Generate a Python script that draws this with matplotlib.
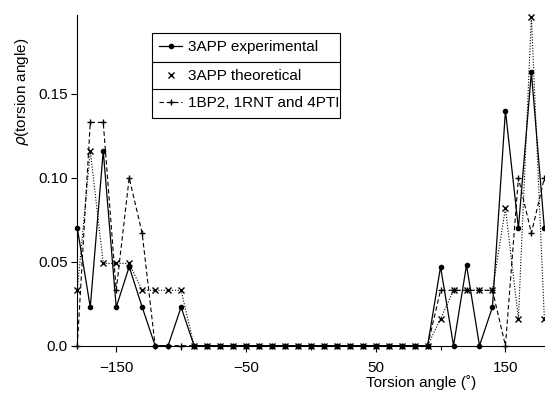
import matplotlib
matplotlib.use("Agg")
import matplotlib.pyplot as plt
from matplotlib.lines import Line2D

plt.rcParams['font.family'] = ['Liberation Sans', 'DejaVu Sans']

# ---- data ----
angles = list(range(-180, 181, 10))

experimental = ([0.070, 0.023, 0.116, 0.023, 0.047, 0.023, 0.0, 0.0, 0.023, 0.0]
                + [0.0] * 17
                + [0.0, 0.047, 0.0, 0.048, 0.0, 0.023, 0.140, 0.070, 0.163, 0.070])

theoretical = ([0.033, 0.116, 0.049, 0.049, 0.049, 0.033, 0.033, 0.033, 0.033, 0.0]
               + [0.0] * 17
               + [0.0, 0.016, 0.033, 0.033, 0.033, 0.033, 0.082, 0.016, 0.196, 0.016])

others = ([0.0, 0.133, 0.133, 0.033, 0.100, 0.067, 0.0, 0.0, 0.0, 0.0]
          + [0.0] * 17
          + [0.0, 0.033, 0.033, 0.033, 0.033, 0.033, 0.0, 0.100, 0.067, 0.100])

labels = ["3APP experimental", "3APP theoretical", "1BP2, 1RNT and 4PTI"]
xticks_major = [-150, -50, 50, 150]
xtick_labels = ["\u2212150", "\u221250", "50", "150"]
xticks_minor = [-100, 0, 100]
yticks = [0.0, 0.05, 0.10, 0.15]
ytick_labels = ["0.0", "0.05", "0.10", "0.15"]

# ---- figure ----
W, H = 545, 398
fig = plt.figure(figsize=(W / 100, H / 100), dpi=100)
x_left, x_right, y_zero, y_top = 77.3, 545.0, 345.7, 15.0
ax = fig.add_axes([x_left / W, (H - y_zero) / H, (x_right - x_left) / W, (y_zero - y_top) / H])

ax.plot(angles, others, color='black', lw=0.8, ls=(0, (4, 2.5)), marker='+',
        ms=4, mew=1.0, clip_on=False, zorder=2)
ax.plot(angles, theoretical, color='black', lw=0.8, ls=(0, (1, 1.5)), marker='x',
        ms=3.8, mew=1.0, clip_on=False, zorder=3)
ax.plot(angles, experimental, color='black', lw=0.9, ls='-', marker='o',
        ms=3.0, clip_on=False, zorder=4)

ax.set_xlim(-180, 180.5)
ax.set_ylim(0, 0.197)

for s in ['top', 'right']:
    ax.spines[s].set_visible(False)
for s in ['left', 'bottom']:
    ax.spines[s].set_linewidth(0.8)

ax.set_xticks(xticks_major)
ax.set_xticklabels(xtick_labels)
ax.set_xticks(xticks_minor, minor=True)
ax.set_yticks(yticks)
ax.set_yticklabels(ytick_labels)
ax.tick_params(axis='x', which='major', direction='out', length=4, width=0.8, pad=7, labelsize=11)
ax.tick_params(axis='x', which='minor', direction='out', length=3, width=0.8)
ax.tick_params(axis='y', direction='out', length=4, width=0.8, pad=3, labelsize=11)

ax.set_xlabel("Torsion angle (\u02da)", fontsize=11)
ax.xaxis.set_label_coords((421 - x_left) / (x_right - x_left), (y_zero - 383) / (y_zero - y_top))
ax.xaxis.label.set_verticalalignment('center')

ax.set_ylabel(r"$\rho$(torsion angle)", fontsize=11)
ax.yaxis.set_label_coords((22 - x_left) / (x_right - x_left), (y_zero - 92) / (y_zero - y_top))
ax.yaxis.label.set_verticalalignment('center')

# ---- legend: three stacked boxes ----
handles = [
    Line2D([], [], color='black', lw=0.9, ls='-', marker='o', ms=3.0),
    Line2D([], [], color='black', ls='none', marker='x', ms=3.8, mew=1.0),
    Line2D([], [], color='black', lw=0.8, ls=(0, (4, 2.5)), marker='+', ms=4, mew=1.0),
]
box_left, box_right = 152, 340
tops = [33, 62, 89]
legs = []
for h, lab, top in zip(handles, labels, tops):
    leg = ax.legend([h], [lab], loc='upper left',
                    bbox_to_anchor=(box_left / W, 1 - top / H, (box_right - box_left) / W, 0),
                    bbox_transform=fig.transFigure, mode='expand', borderaxespad=0,
                    frameon=True, fancybox=False, framealpha=1, edgecolor='black',
                    fontsize=11, handlelength=1.5, handletextpad=0.4, borderpad=0.48)
    leg.get_frame().set_linewidth(0.8)
    legs.append(leg)
for leg in legs[:-1]:
    ax.add_artist(leg)

fig.savefig("out.png", dpi=100)
